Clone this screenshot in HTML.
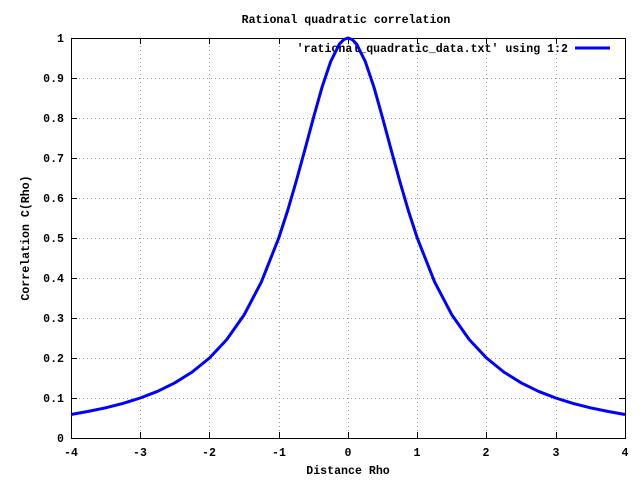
<!DOCTYPE html>
<html><head><style>body{margin:0;background:#fff}svg{display:block}text{font-family:"Liberation Mono",monospace;font-size:11.6px;font-weight:bold;fill:#000}</style></head>
<body>
<svg width="640" height="480" xmlns="http://www.w3.org/2000/svg">
<g stroke="#a0a0a0" stroke-width="1" stroke-dasharray="1,3">
<line x1="71" y1="398.5" x2="625" y2="398.5"/><line x1="71" y1="358.5" x2="625" y2="358.5"/><line x1="71" y1="318.5" x2="625" y2="318.5"/><line x1="71" y1="278.5" x2="625" y2="278.5"/><line x1="71" y1="238.5" x2="625" y2="238.5"/><line x1="71" y1="198.5" x2="625" y2="198.5"/><line x1="71" y1="158.5" x2="625" y2="158.5"/><line x1="71" y1="118.5" x2="625" y2="118.5"/><line x1="71" y1="78.5" x2="625" y2="78.5"/>
<line x1="140.5" y1="38" x2="140.5" y2="438"/><line x1="209.5" y1="38" x2="209.5" y2="438"/><line x1="279.5" y1="38" x2="279.5" y2="438"/><line x1="348.5" y1="38" x2="348.5" y2="438"/><line x1="417.5" y1="38" x2="417.5" y2="438"/><line x1="486.5" y1="38" x2="486.5" y2="438"/><line x1="556.5" y1="38" x2="556.5" y2="438"/>
</g>
<rect x="71.5" y="38.5" width="554" height="400" fill="none" stroke="#000"/>
<g stroke="#000">
<path d="M71 438.5h6M71 398.5h6M71 358.5h6M71 318.5h6M71 278.5h6M71 238.5h6M71 198.5h6M71 158.5h6M71 118.5h6M71 78.5h6M71 38.5h6M625 438.5h-6M625 398.5h-6M625 358.5h-6M625 318.5h-6M625 278.5h-6M625 238.5h-6M625 198.5h-6M625 158.5h-6M625 118.5h-6M625 78.5h-6M625 38.5h-6"/>
<path d="M71.5 438v-6M140.5 438v-6M209.5 438v-6M279.5 438v-6M348.5 438v-6M417.5 438v-6M486.5 438v-6M556.5 438v-6M625.5 438v-6M71.5 38v6M140.5 38v6M209.5 38v6M279.5 38v6M348.5 38v6M417.5 38v6M486.5 38v6M556.5 38v6M625.5 38v6"/>
</g>
<g text-anchor="end">
<text x="64" y="442">0</text><text x="64" y="402">0.1</text><text x="64" y="362">0.2</text><text x="64" y="322">0.3</text><text x="64" y="282">0.4</text><text x="64" y="242">0.5</text><text x="64" y="202">0.6</text><text x="64" y="162">0.7</text><text x="64" y="122">0.8</text><text x="64" y="82">0.9</text><text x="64" y="42">1</text>
</g>
<g text-anchor="middle">
<text x="71" y="456">-4</text><text x="140" y="456">-3</text><text x="209" y="456">-2</text><text x="279" y="456">-1</text><text x="348" y="456">0</text><text x="417" y="456">1</text><text x="486" y="456">2</text><text x="556" y="456">3</text><text x="625" y="456">4</text>
<text x="348" y="474">Distance Rho</text>
<text x="346" y="23">Rational quadratic correlation</text>
<text transform="translate(29,238) rotate(-90)">Correlation C(Rho)</text>
</g>
<text x="568" y="52" text-anchor="end">'rational_quadratic_data.txt' using 1:2</text>
<line x1="575" y1="48" x2="610" y2="48" stroke="#0000ff" stroke-width="3"/>
<polyline fill="none" stroke="#0000ff" stroke-width="3" stroke-linejoin="round" points="71,414.5 88.3,411.4 105.6,407.8 122.9,403.4 140.25,398 157.6,391.3 174.9,382.8 192.2,372 209.5,358 226.8,339.5 244.1,314.9 261.4,281.9 278.75,238 287.4,211.4 296,182 304.7,150.4 313.4,118 322,87.3 330.7,61.5 339.3,44.2 343.7,39.6 348,38 352.3,39.6 356.7,44.2 365.3,61.5 374,87.3 382.6,118 391.3,150.4 400,182 408.6,211.4 417.25,238 434.6,281.9 451.9,314.9 469.2,339.5 486.5,358 503.8,372 521.1,382.8 538.4,391.3 555.75,398 573.1,403.4 590.4,407.8 607.7,411.4 625,414.5"/>
</svg>
</body></html>
